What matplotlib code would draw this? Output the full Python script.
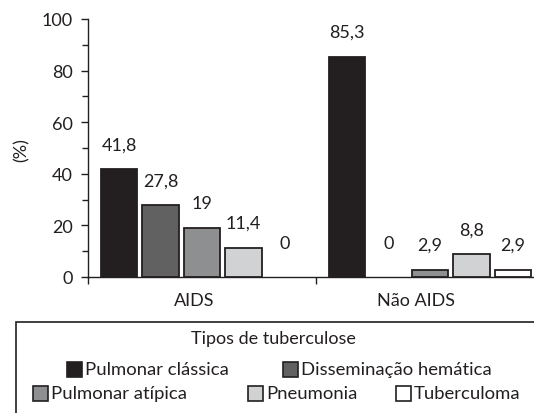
# Distribution of tuberculosis types, AIDS vs non-AIDS patients

import numpy as np
import matplotlib as mpl
mpl.use('Agg')
import matplotlib.pyplot as plt
from matplotlib.patches import Rectangle

categories = ['AIDS', 'Não AIDS']
tipos = ['Pulmonar clássica', 'Disseminação hemática', 'Pulmonar atípica',
         'Pneumonia', 'Tuberculoma']
aids = [41.8, 27.8, 19, 11.4, 0]
nao_aids = [85.3, 0, 2.9, 8.8, 2.9]
colors = ['#231f20', '#616161', '#8e8f91', '#d1d2d4', '#ffffff']

plt.rcParams['font.family'] = ['Lato', 'DejaVu Sans']
FS = 13
W, H = 534, 414

def fx(px):
    return px / W

def fy(py):
    return 1 - py / H

fig = plt.figure(figsize=(W / 100, H / 100), dpi=100)
ax = fig.add_axes([fx(88), fy(278), 1 - fx(88), (278 - 20) / H])

x = np.arange(len(categories))
step = 0.182
width = 0.158
values = np.array([aids, nao_aids]).T
for i, (vals, c) in enumerate(zip(values, colors)):
    pos = x + (i - 2) * step
    lw = [1.3 if v > 0 else 0 for v in vals]
    ax.bar(pos, vals, width, color=c, edgecolor='#231f20', linewidth=lw,
           label=tipos[i], zorder=3)
    for p, v in zip(pos, vals):
        txt = ('%g' % v).replace('.', ',')
        off = 24.5 if v == 0 else 18
        ax.annotate(txt, (p, v), xytext=(0, off), textcoords='offset points',
                    ha='center', va='center', fontsize=FS, color='#231f20')

ax.set_xlim(-0.5, -0.5 + (W - 88) / 228)
ax.set_ylim(0, 100)
ax.set_yticks(range(0, 101, 20))
ax.set_yticks(range(0, 101, 10), minor=True)
ax.set_xticks([-0.5, 0.5])
ax.set_xticklabels([])
ax.tick_params(axis='y', which='major', length=5, width=1, labelsize=FS,
               colors='#231f20', pad=6)
ax.tick_params(axis='y', which='minor', length=4, width=1, colors='#231f20')
ax.tick_params(axis='x', length=5, width=1, colors='#231f20')
for s in ['top', 'right']:
    ax.spines[s].set_visible(False)
for s in ['left', 'bottom']:
    ax.spines[s].set_color('#231f20')
    ax.spines[s].set_linewidth(1)

# category labels sit a bit left of the group centres in the original
for cx, lab in zip([194, 416], categories):
    fig.text(fx(cx), fy(301), lab, ha='center', va='center', fontsize=FS,
             color='#231f20')

fig.text(fx(22), fy(150), '(%)', rotation=90, ha='center', va='center',
         fontsize=FS, color='#231f20')

# legend box
fig.patches.append(Rectangle((fx(16), fy(430)), 1.2, fy(323) - fy(430),
                             transform=fig.transFigure, fill=False,
                             edgecolor='#231f20', linewidth=1.2))
fig.text(fx(273), fy(339), 'Tipos de tuberculose', ha='center', va='center',
         fontsize=FS, color='#231f20')
legend_pos = [(67, 370), (283, 370), (33, 394), (248, 394), (396, 394)]
sq = 15
for (px, py), name, c in zip(legend_pos, tipos, colors):
    fig.patches.append(Rectangle((fx(px), fy(py + sq / 2)), sq / W, sq / H,
                                 transform=fig.transFigure, facecolor=c,
                                 edgecolor='#231f20', linewidth=1.2))
    fig.text(fx(px + sq + 3), fy(py), name, ha='left', va='center',
             fontsize=FS + 0.3, color='#231f20')

fig.savefig('out.png', dpi=100)
